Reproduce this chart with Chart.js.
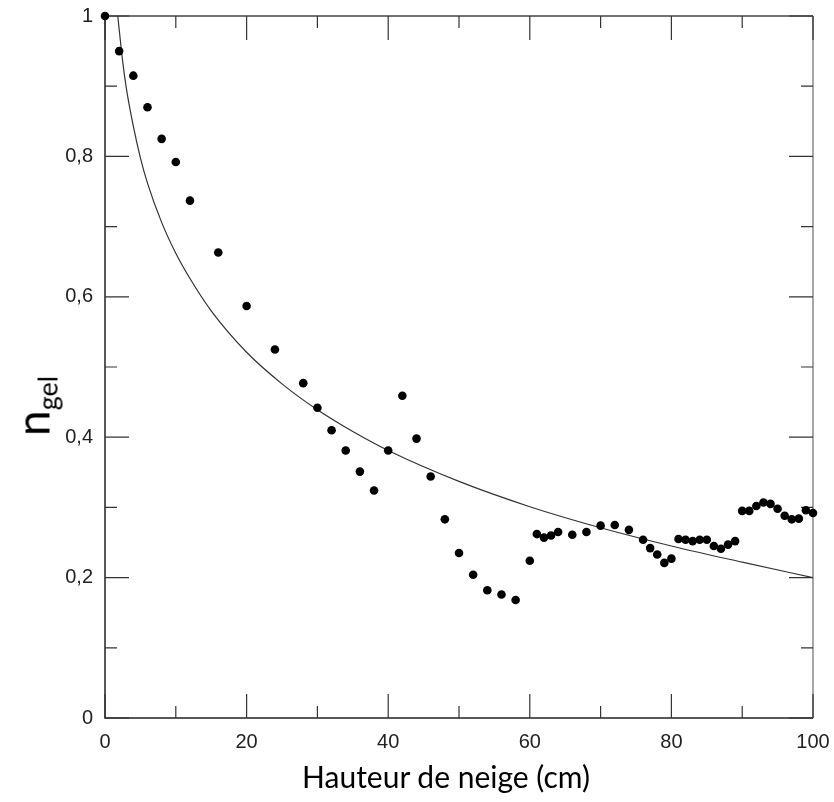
<!DOCTYPE html>
<html>
<head>
<meta charset="utf-8">
<script src="https://cdn.jsdelivr.net/npm/chart.js@4"></script>
<style>
  html, body { margin: 0; padding: 0; background: #fff; }
  #wrap { position: relative; width: 834px; height: 802px; }
  .axisTitle {
    position: absolute; font-family: Lato, "Open Sans", sans-serif; color: #000;
    white-space: nowrap; line-height: 1;
  }
  #yTitle { left: 35px; top: 406px; transform: translate(-50%, -50%) rotate(-90deg); }
  #yTitle .n { font-size: 46px; }
  #yTitle sub { font-size: 27px; vertical-align: -8px; }
  #xTitle { left: 446px; top: 776px; transform: translate(-50%, -50%); font-size: 30px; }
</style>
</head>
<body>
<div id="wrap">
  <canvas id="chart" width="834" height="802"></canvas>
  <div id="yTitle" class="axisTitle"><span class="n">n</span><sub>gel</sub></div>
  <div id="xTitle" class="axisTitle">Hauteur de neige (cm)</div>
</div>
<script>
// measured points (snow height cm, n_gel)
const heights = [0, 2, 4, 6, 8, 10, 12, 16, 20, 24, 28, 30, 32, 34, 36, 38, 40, 42, 44, 46, 48, 50, 52, 54, 56, 58,
  60, 61, 62, 63, 64, 66, 68, 70, 72, 74, 76, 77, 78, 79, 80, 81, 82, 83, 84, 85, 86, 87, 88, 89,
  90, 91, 92, 93, 94, 95, 96, 97, 98, 99, 100];
const nGel = [1.0, 0.950, 0.915, 0.870, 0.825, 0.792, 0.737, 0.663, 0.587, 0.525, 0.477, 0.442, 0.410, 0.381, 0.351, 0.324, 0.381, 0.459, 0.398, 0.344, 0.283, 0.235, 0.204, 0.182, 0.176, 0.168,
  0.224, 0.262, 0.257, 0.260, 0.265, 0.261, 0.265, 0.274, 0.275, 0.268, 0.254, 0.242, 0.233, 0.221, 0.227, 0.255, 0.254, 0.252, 0.254, 0.254, 0.245, 0.241, 0.247, 0.252,
  0.295, 0.295, 0.302, 0.307, 0.305, 0.298, 0.288, 0.283, 0.284, 0.296, 0.292];

// fitted curve
const fitX = [1.8, 2.5, 3, 4, 5, 6, 8, 10, 12, 15, 20, 25, 30, 35, 40, 50, 60, 70, 80, 90, 100];
const fitY = [1.0, 0.935, 0.898, 0.843, 0.798, 0.762, 0.706, 0.662, 0.626, 0.580, 0.521, 0.476, 0.439, 0.408, 0.381, 0.337, 0.301, 0.271, 0.245, 0.222, 0.200];

const xMajor = [0, 20, 40, 60, 80, 100];
const xMinor = [10, 30, 50, 70, 90];
const yMajor = [0, 0.2, 0.4, 0.6, 0.8, 1];
const yMinor = [0.1, 0.3, 0.5, 0.7, 0.9];

const tickFont = { family: '"Liberation Sans", Arial, sans-serif', size: 20 };

// box frame with inward ticks on all four sides
const frame = {
  id: 'frame',
  beforeDatasetsDraw(chart) {
    const { ctx, chartArea: a, scales: { x, y } } = chart;
    ctx.save();
    ctx.lineWidth = 1.5;
    ctx.strokeStyle = '#444';
    ctx.beginPath();
    ctx.moveTo(a.left, a.top); ctx.lineTo(a.right, a.top);
    ctx.stroke();
    ctx.strokeStyle = '#888';
    ctx.beginPath();
    ctx.moveTo(a.right, a.top); ctx.lineTo(a.right, a.bottom);
    ctx.stroke();
    ctx.strokeStyle = '#222';
    ctx.beginPath();
    ctx.moveTo(a.left, a.top); ctx.lineTo(a.left, a.bottom); ctx.lineTo(a.right, a.bottom);
    ctx.stroke();

    ctx.lineWidth = 1.2;
    ctx.strokeStyle = '#333';
    const tickX = (vals, len) => vals.forEach(v => {
      const px = x.getPixelForValue(v);
      ctx.beginPath();
      ctx.moveTo(px, a.bottom); ctx.lineTo(px, a.bottom - len);
      ctx.moveTo(px, a.top); ctx.lineTo(px, a.top + len);
      ctx.stroke();
    });
    const tickY = (vals, len) => vals.forEach(v => {
      const py = y.getPixelForValue(v);
      ctx.beginPath();
      ctx.moveTo(a.left, py); ctx.lineTo(a.left + len, py);
      ctx.moveTo(a.right, py); ctx.lineTo(a.right - len, py);
      ctx.stroke();
    });
    tickX(xMajor, 24); tickX(xMinor, 12);
    tickY(yMajor, 24); tickY(yMinor, 12);
    ctx.restore();
  }
};

new Chart(document.getElementById('chart'), {
  type: 'scatter',
  data: {
    datasets: [
      {
        label: 'mesures',
        data: heights.map((h, i) => ({ x: h, y: nGel[i] })),
        backgroundColor: '#000',
        borderColor: '#000',
        pointRadius: 4.3,
        pointBorderWidth: 0,
        clip: false
      },
      {
        label: 'ajustement',
        data: fitX.map((h, i) => ({ x: h, y: fitY[i] })),
        showLine: true,
        pointRadius: 0,
        borderColor: '#333',
        borderWidth: 1.2,
        cubicInterpolationMode: 'monotone'
      }
    ]
  },
  options: {
    responsive: false,
    animation: false,
    layout: { padding: { top: 16, right: 21, left: 0, bottom: 0 } },
    plugins: { legend: { display: false }, tooltip: { enabled: false } },
    scales: {
      x: {
        type: 'linear', min: 0, max: 100,
        grid: { display: false, drawTicks: false },
        border: { display: false },
        ticks: { stepSize: 20, padding: 12, color: '#222', font: tickFont, maxRotation: 0 },
        afterFit(s) { s.height = 84; s.paddingLeft = 0; s.paddingRight = 0; }
      },
      y: {
        type: 'linear', min: 0, max: 1,
        grid: { display: false, drawTicks: false },
        border: { display: false },
        ticks: {
          stepSize: 0.2, padding: 12, color: '#222', font: tickFont,
          callback: v => (v === 0 || v === 1) ? String(v) : v.toFixed(1).replace('.', ',')
        },
        afterFit(s) { s.width = 105; s.paddingTop = 0; s.paddingBottom = 0; }
      }
    }
  },
  plugins: [frame]
});
</script>
</body>
</html>
